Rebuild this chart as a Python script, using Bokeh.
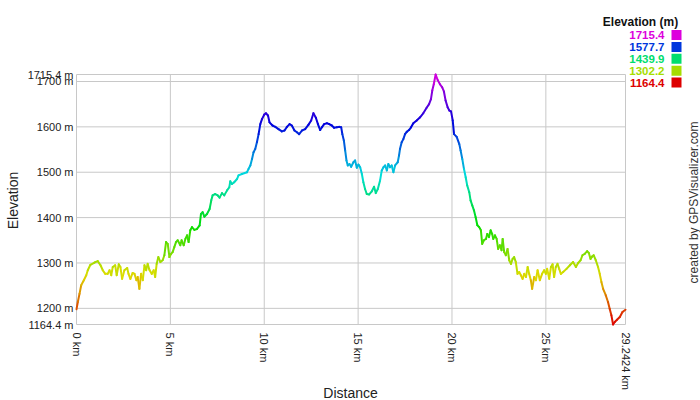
import colorsys
from bokeh.plotting import figure
from bokeh.models import (Range1d, FixedTicker, CustomJSTickFormatter, Label,
                          BoxAnnotation, ColumnDataSource, LinearAxis)
from bokeh.embed import file_html
from bokeh.resources import INLINE

# ---- data ----
dist_km = [
    0.00, 0.07, 0.16, 0.25, 0.39, 0.52, 0.60, 0.74, 0.96, 1.13, 1.28, 1.40, 1.53, 1.66, 1.76, 1.85,
    1.93, 2.06, 2.14, 2.25, 2.34, 2.43, 2.55, 2.70, 2.77, 2.87, 2.99, 3.09, 3.19, 3.26, 3.35, 3.44,
    3.53, 3.62, 3.71, 3.79, 3.88, 4.01, 4.11, 4.19, 4.27, 4.36, 4.47, 4.59, 4.68, 4.77, 4.86, 4.95,
    5.04, 5.12, 5.21, 5.30, 5.39, 5.53, 5.60, 5.71, 5.80, 5.89, 5.97, 6.06, 6.15, 6.28, 6.42, 6.56,
    6.63, 6.72, 6.81, 6.95, 7.09, 7.18, 7.25, 7.39, 7.52, 7.62, 7.75, 7.87, 8.02, 8.14, 8.19, 8.28,
    8.40, 8.55, 8.63, 8.81, 9.08, 9.16, 9.26, 9.35, 9.43, 9.52, 9.61, 9.70, 9.79, 9.88, 10.00, 10.09,
    10.20, 10.28, 10.44, 10.59, 10.76, 10.94, 11.08, 11.21, 11.35, 11.47, 11.61, 11.74, 11.86, 12.01,
    12.18, 12.36, 12.50, 12.62, 12.75, 12.86, 12.98, 13.07, 13.19, 13.34, 13.46, 13.60, 13.72, 13.87,
    13.99, 14.10, 14.16, 14.24, 14.31, 14.38, 14.45, 14.54, 14.63, 14.75, 14.84, 14.93, 15.02, 15.11,
    15.20, 15.28, 15.37, 15.46, 15.59, 15.73, 15.85, 15.94, 16.05, 16.17, 16.26, 16.35, 16.44, 16.53,
    16.61, 16.70, 16.79, 16.88, 16.97, 17.11, 17.18, 17.23, 17.32, 17.41, 17.50, 17.59, 17.71, 17.82,
    17.94, 18.12, 18.30, 18.47, 18.65, 18.78, 18.88, 18.95, 19.03, 19.13, 19.24, 19.36, 19.48, 19.57,
    19.66, 19.77, 19.86, 19.95, 20.04, 20.11, 20.25, 20.39, 20.46, 20.55, 20.64, 20.73, 20.81, 20.92,
    20.99, 21.08, 21.17, 21.26, 21.35, 21.45, 21.54, 21.61, 21.70, 21.81, 21.88, 21.97, 22.06, 22.14,
    22.20, 22.29, 22.38, 22.46, 22.55, 22.64, 22.70, 22.78, 22.87, 22.96, 23.05, 23.14, 23.23, 23.31,
    23.40, 23.49, 23.58, 23.67, 23.76, 23.85, 23.94, 24.03, 24.11, 24.20, 24.27, 24.38, 24.47, 24.56,
    24.68, 24.80, 24.91, 25.00, 25.07, 25.18, 25.27, 25.36, 25.44, 25.53, 25.62, 25.71, 25.80, 25.92,
    26.10, 26.28, 26.45, 26.60, 26.72, 26.85, 26.95, 27.07, 27.20, 27.29, 27.38, 27.46, 27.55, 27.66,
    27.78, 27.87, 27.96, 28.05, 28.19, 28.31, 28.40, 28.49, 28.58, 28.67, 28.79, 28.94, 29.08, 29.2424,
]
elev_m = [
    1198, 1214, 1232, 1251, 1262, 1273, 1284, 1296, 1301, 1304, 1295, 1284, 1276, 1276, 1284, 1273,
    1291, 1295, 1273, 1297, 1291, 1265, 1284, 1289, 1276, 1265, 1278, 1276, 1262, 1269, 1243, 1276,
    1262, 1295, 1284, 1298, 1285, 1276, 1284, 1269, 1298, 1313, 1302, 1306, 1317, 1346, 1342, 1313,
    1320, 1324, 1335, 1346, 1350, 1339, 1350, 1339, 1353, 1361, 1346, 1372, 1379, 1373, 1375, 1383,
    1408, 1412, 1402, 1408, 1419, 1438, 1449, 1452, 1449, 1444, 1454, 1449, 1460, 1467, 1480, 1474,
    1478, 1485, 1493, 1496, 1500, 1507, 1515, 1529, 1544, 1551, 1566, 1584, 1606, 1617, 1627, 1630,
    1625, 1610, 1603, 1600, 1595, 1590, 1592, 1600, 1606, 1603, 1592, 1588, 1584, 1592,
    1595, 1605, 1614, 1630, 1620, 1606, 1593, 1599, 1606, 1608, 1606, 1603, 1598, 1599,
    1600, 1599, 1584, 1570, 1548, 1526, 1515, 1518, 1512, 1522, 1526, 1510, 1517, 1511,
    1496, 1478, 1463, 1452, 1451, 1458, 1468, 1454, 1463, 1482, 1504, 1511, 1515, 1504,
    1518, 1511, 1515, 1500, 1515, 1522, 1537, 1551, 1566, 1573, 1584, 1589, 1593, 1599,
    1608, 1614, 1621, 1630, 1642, 1650, 1661, 1680, 1694, 1715.4, 1703, 1694, 1687, 1678,
    1658, 1643, 1636, 1634, 1614, 1584, 1578, 1562, 1548, 1529, 1507, 1489, 1471, 1456,
    1438, 1427, 1416, 1401, 1383, 1379, 1372, 1342, 1350, 1353, 1364, 1357, 1372, 1364,
    1353, 1361, 1353, 1331, 1339, 1328, 1353, 1324, 1317, 1331, 1306, 1298, 1309, 1313,
    1302, 1276, 1280, 1273, 1265, 1276, 1269, 1291, 1276, 1262, 1243, 1269, 1262, 1284,
    1262, 1276, 1284, 1276, 1287, 1265, 1291, 1297, 1269, 1291, 1298, 1287, 1276, 1280,
    1287, 1295, 1302, 1291, 1300, 1306, 1317, 1320, 1326, 1322, 1309, 1314, 1317, 1306,
    1291, 1276, 1258, 1243, 1229, 1214, 1199, 1185, 1164.4, 1170, 1175, 1181, 1192, 1197,
]
x_ticks = [0, 5, 10, 15, 20, 25, 29.2424]
y_ticks = [1164.4, 1200, 1300, 1400, 1500, 1600, 1700, 1715.4]
legend_values = [1715.4, 1577.7, 1439.9, 1302.2, 1164.4]

E_MIN, E_MAX = min(y_ticks), max(y_ticks)
X_MIN, X_MAX = min(x_ticks), max(x_ticks)

# ---- layout (pixels) ----
W, H = 700, 400
PL, PR, PT, PB = 76, 625, 74, 324          # plot area edges
FONT = "Liberation Sans"
GRID = "#c8c8c8"
TXT = "#222222"

kx = (PR - PL) / (X_MAX - X_MIN)
ky = (PB - PT) / (E_MAX - E_MIN)
x_range = Range1d(X_MIN - PL / kx, X_MAX + (W - PR) / kx)
y_range = Range1d(E_MIN - (H - PB) / ky, E_MAX + PT / ky)


def elev_color(e):
    f = (e - E_MIN) / (E_MAX - E_MIN)
    f = min(max(f, 0.0), 1.0)
    r, g, b = colorsys.hsv_to_rgb(f * 300.0 / 360.0, 1.0, 0.87)
    return "#%02x%02x%02x" % (int(r * 255), int(g * 255), int(b * 255))


p = figure(width=W, height=H, x_range=x_range, y_range=y_range,
           x_axis_location=None, y_axis_location=None,
           output_backend="svg", toolbar_location=None, min_border=0)
p.background_fill_color = "white"
p.border_fill_color = "white"
p.outline_line_color = None
p.xgrid.visible = False
p.ygrid.visible = False

# grid + plot border
gx = x_ticks[1:-1]
gy = y_ticks[1:-1]
p.segment(x0=gx, y0=[E_MIN] * len(gx), x1=gx, y1=[E_MAX] * len(gx), line_color=GRID, line_width=1)
p.segment(x0=[X_MIN] * len(gy), y0=gy, x1=[X_MAX] * len(gy), y1=gy, line_color=GRID, line_width=1)
p.quad(left=[X_MIN], right=[X_MAX], bottom=[E_MIN], top=[E_MAX],
       fill_color=None, line_color=GRID, line_width=1)

# axes
xaxis = LinearAxis(fixed_location=E_MIN, ticker=FixedTicker(ticks=x_ticks),
                   formatter=CustomJSTickFormatter(code="return tick + ' km';"))
yaxis = LinearAxis(fixed_location=X_MIN, ticker=FixedTicker(ticks=y_ticks[:-1]),
                   formatter=CustomJSTickFormatter(code="return tick + ' m';"))
yaxis_top = LinearAxis(fixed_location=X_MIN, ticker=FixedTicker(ticks=y_ticks[-1:]),
                       formatter=CustomJSTickFormatter(code="return tick + ' m';"))
for ax in (xaxis, yaxis, yaxis_top):
    ax.axis_line_color = None
    ax.major_tick_line_color = None
    ax.minor_tick_line_color = None
    ax.major_tick_out = 0
    ax.major_tick_in = 0
    ax.major_label_text_font = FONT
    ax.major_label_text_font_size = "11px"
    ax.major_label_text_color = TXT
xaxis.major_label_orientation = "vertical"
xaxis.major_label_standoff = 8
yaxis.major_label_standoff = 3
yaxis_top.major_label_standoff = 3
yaxis_top.major_label_text_baseline = "alphabetic"
p.add_layout(xaxis, "below")
p.add_layout(yaxis, "left")
p.add_layout(yaxis_top, "left")

# coloured profile segments
x0 = dist_km[:-1]
x1 = dist_km[1:]
y0 = elev_m[:-1]
y1 = elev_m[1:]
cols = [elev_color((a + b) / 2.0) for a, b in zip(y0, y1)]
src = ColumnDataSource(dict(x0=x0, x1=x1, y0=y0, y1=y1, c=cols))
p.segment("x0", "y0", "x1", "y1", source=src, line_color="c", line_width=2, line_cap="round")


def sy(y):
    return H - y


# axis titles and credit
p.add_layout(Label(x=350, y=sy(392), x_units="screen", y_units="screen", text="Distance",
                   text_align="center", text_baseline="middle", text_font=FONT,
                   text_font_size="14px", text_color=TXT))
p.add_layout(Label(x=12, y=sy(200), x_units="screen", y_units="screen", text="Elevation",
                   angle=1.5707963, text_align="center", text_baseline="middle", text_font=FONT,
                   text_font_size="14px", text_color=TXT))
p.add_layout(Label(x=693, y=sy(202), x_units="screen", y_units="screen",
                   text="created by GPSVisualizer.com", angle=1.5707963,
                   text_align="center", text_baseline="middle", text_font=FONT,
                   text_font_size="12px", text_color="#333333"))

# colour legend
p.add_layout(Label(x=640, y=sy(21.5), x_units="screen", y_units="screen", text="Elevation (m)",
                   text_align="center", text_baseline="middle", text_font=FONT,
                   text_font_size="12px", text_font_style="bold", text_color="#111111"))
for i, v in enumerate(legend_values):
    ly = 34.5 + i * 11.9
    c = elev_color(v)
    p.add_layout(Label(x=664, y=sy(ly), x_units="screen", y_units="screen", text=f"{v:.1f}",
                       text_align="right", text_baseline="middle", text_font=FONT,
                       text_font_size="11.5px", text_font_style="bold", text_color=c))
    p.add_layout(BoxAnnotation(left=671, right=681, bottom=sy(ly + 5), top=sy(ly - 5),
                               left_units="screen", right_units="screen",
                               bottom_units="screen", top_units="screen",
                               fill_color=c, fill_alpha=1.0, line_color=None))

open("out.html", "w").write(file_html(p, INLINE))
